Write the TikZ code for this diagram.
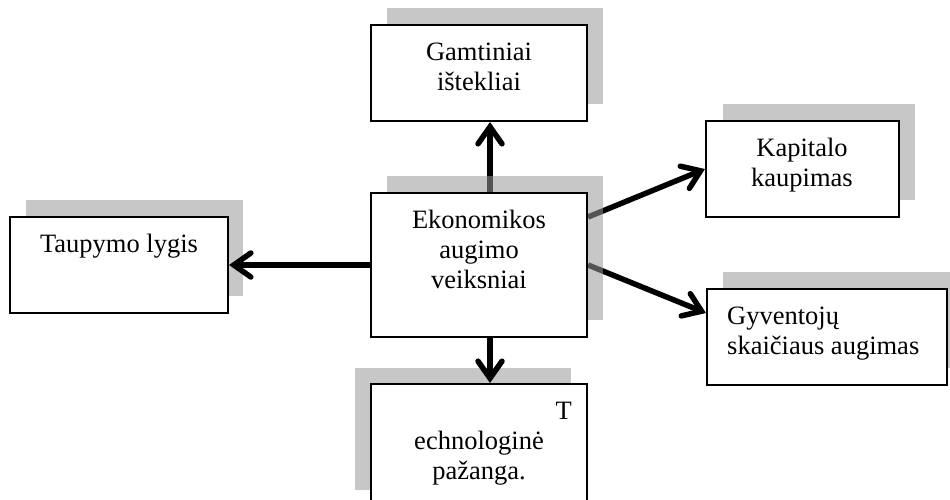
\documentclass[tikz,border=0pt]{standalone}
\usepackage{fontspec}
\setmainfont{Liberation Serif}
\usetikzlibrary{arrows.meta}
\pgfdeclarelayer{shadows}
\pgfdeclarelayer{links}
\pgfdeclarelayer{veil}
\pgfsetlayers{shadows,links,veil,main}
\begin{document}
\begin{tikzpicture}[x=1pt,y=-1pt,
  box/.style={draw, line width=2.1pt, fill=white, inner sep=0pt, rectangle},
  shade/.style={fill=black!40, fill opacity=0.55},
  link/.style={line width=5.5pt, -{Straight Barb[length=17pt,width=24pt,line cap=round]}},
  lbl/.style={font=\fontsize{26.5}{30}\selectfont, inner sep=0pt, anchor=base, align=center}]
\useasboundingbox (0,0) rectangle (950,499);
\clip (0,0) rectangle (950,499);

% boxes
\node[box, minimum width=216pt, minimum height=96pt]  (gam)  at (479,73)    {};
\node[box, minimum width=216pt, minimum height=144pt] (cen)  at (479,265)   {};
\node[box, minimum width=216pt, minimum height=144pt] (tech) at (479,456)   {};
\node[box, minimum width=193pt, minimum height=96pt]  (kap)  at (802.5,169) {};
\node[box, minimum width=240pt, minimum height=96pt]  (gyv)  at (827,337)   {};
\node[box, minimum width=218pt, minimum height=96pt]  (tau)  at (119,265)   {};

% labels (anchored at the baseline of their last line)
\node[lbl] (gamtxt) at (479,90) {Gamtiniai\\ištekliai};
\node[lbl] (centxt) at (479,288) {Ekonomikos\\augimo\\veiksniai};
\node[lbl] (kaptxt) at (802,186) {Kapitalo\\kaupimas};
\node[lbl] (tautxt) at (119,252) {Taupymo lygis};
\node[lbl, anchor=base west, align=left] (gyvtxt) at (727,354) {Gyventojų\\skaičiaus augimas};
\node[lbl, anchor=base east] (techT) at (572,419) {T};
\node[lbl] (techtxt) at (479,479) {echnologinė\\pažanga.};

% drop shadows behind the outer boxes
\begin{pgfonlayer}{shadows}
  \fill[shade] (387,8)   rectangle (603,104);
  \fill[shade] (355,368) rectangle (571,490);
  \fill[shade] (723,104) rectangle (915,200);
  \fill[shade] (723,272) rectangle (963,368);
  \fill[shade] (26,200)  rectangle (243,296);
\end{pgfonlayer}

% connectors
\begin{pgfonlayer}{links}
  \draw[link] ([xshift=11pt]cen.north) -- ([xshift=11pt]gam.south);
  \draw[link] ([xshift=11pt]cen.south) -- ([xshift=11pt]tech.north);
  \draw[link] (cen.west) -- (tau.east);
  \draw[link] ([yshift=48pt]cen.east) -- (kap.west);
  \draw[link] (cen.east) -- ([yshift=24pt]gyv.west);
\end{pgfonlayer}

% shadow of the central box lies over the connector starts
\begin{pgfonlayer}{veil}
  \fill[shade] (387,176) rectangle (603,320);
\end{pgfonlayer}
\end{tikzpicture}
\end{document}
